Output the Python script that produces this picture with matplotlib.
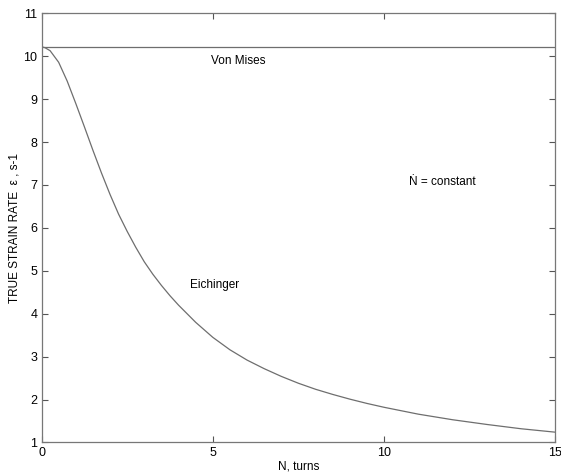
"""True strain rate vs number of turns: Von Mises vs Eichinger."""
import matplotlib
matplotlib.use("Agg")
import matplotlib.pyplot as plt

# Data
VON_MISES_N = [0, 15]
VON_MISES_RATE = [10.22, 10.22]

EICH_N = [0.0, 0.1, 0.25, 0.5, 0.75, 1.0, 1.25, 1.5, 1.75, 2.0, 2.25, 2.5, 2.75,
          3.0, 3.25, 3.5, 3.75, 4.0, 4.5, 5.0, 5.5, 6.0, 6.5, 7.0, 7.5, 8.0,
          8.5, 9.0, 9.5, 10.0, 11.0, 12.0, 13.0, 14.0, 15.0]
EICH_RATE = [10.22, 10.20, 10.13, 9.86, 9.42, 8.90, 8.36, 7.81, 7.28, 6.78, 6.32, 5.92, 5.55,
             5.21, 4.92, 4.66, 4.42, 4.20, 3.80, 3.45, 3.16, 2.92, 2.72, 2.54, 2.38, 2.24,
             2.12, 2.01, 1.91, 1.82, 1.66, 1.53, 1.42, 1.32, 1.24]

X_TICKS = [0, 5, 10, 15]
Y_TICKS = list(range(1, 12))

FONT = ["Liberation Sans", "DejaVu Sans"]
plt.rcParams["font.family"] = FONT

fig = plt.figure(figsize=(5.61, 4.76), dpi=100)
ax = fig.add_axes([0.074, 0.0704, 0.916, 0.9016])

line_kw = dict(color="#6e6e6e", linewidth=0.9)
ax.plot(VON_MISES_N, VON_MISES_RATE, **line_kw)
ax.plot(EICH_N, EICH_RATE, **line_kw)

ax.set_xlim(0, 15); ax.set_ylim(1, 11)
ax.set_xticks(X_TICKS); ax.set_yticks(Y_TICKS)
ax.tick_params(direction="in", top=True, right=True, labelsize=9, length=4,
               width=0.8, color="#555555", pad=3)
for s in ax.spines.values():
    s.set_color("#777777"); s.set_linewidth(0.9)

ax.set_xlabel("N, turns", fontsize=8.5, labelpad=1)
ax.set_ylabel("TRUE STRAIN RATE  \u03b5 , s-1", fontsize=8.5, labelpad=2)

ax.text(5.74, 9.9, "Von Mises", fontsize=8.5, ha="center", va="center")
ax.text(4.33, 4.68, "Eichinger", fontsize=8.5, ha="left", va="center")
ax.text(10.72, 7.06, "\u1e44 = constant", fontsize=8.5, ha="left", va="center")

fig.savefig("out.png", dpi=100)
